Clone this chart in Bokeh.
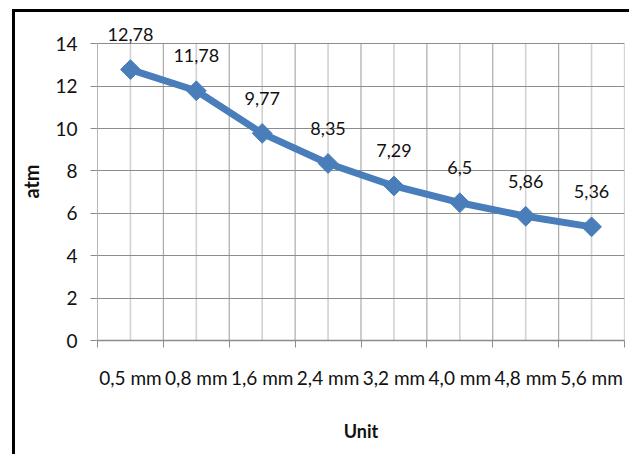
import math

from bokeh.plotting import figure
from bokeh.models import ColumnDataSource, FixedTicker, LabelSet, Range1d
from bokeh.core.properties import value
from bokeh.embed import file_html
from bokeh.resources import INLINE

# Pressure (atm) for each gap size
categories = ["0,5 mm", "0,8 mm", "1,6 mm", "2,4 mm", "3,2 mm", "4,0 mm", "4,8 mm", "5,6 mm"]
values = [12.78, 11.78, 9.77, 8.35, 7.29, 6.5, 5.86, 5.36]
value_labels = ["12,78", "11,78", "9,77", "8,35", "7,29", "6,5", "5,86", "5,36"]
y_ticks = [0, 2, 4, 6, 8, 10, 12, 14]
y_max = 14

FONT = "Lato"
BLUE = "#4a7ebb"
TEXT = "#111111"

n = len(categories)
# categories sit in the middle of unit-wide slots
xs = [i + 0.5 for i in range(n)]
source = ColumnDataSource(data=dict(x=xs, y=values, label=value_labels))

# a little headroom above the last tick so the value labels are not clipped
p = figure(
    width=617, height=445,
    x_range=Range1d(0, n), y_range=Range1d(0, y_max + 1),
    output_backend="svg", toolbar_location=None,
    min_border_left=82, min_border_right=8, min_border_top=10, min_border_bottom=117,
)
p.styles = {
    "margin-left": "12px", "margin-top": "9px",
    "border-left": "3px solid black", "border-top": "3px solid black",
}
p.outline_line_color = None
p.background_fill_color = "white"
p.border_fill_color = "white"

# x axis: labels centred on the slots, tick marks between them
p.xaxis.ticker = FixedTicker(ticks=xs, minor_ticks=list(range(n + 1)))
p.xaxis.major_label_overrides = {x: c for x, c in zip(xs, categories)}
p.xaxis.major_tick_out = 0
p.xaxis.major_tick_in = 0
p.xaxis.minor_tick_out = 7
p.xaxis.minor_tick_in = 0
p.xaxis.minor_tick_line_color = "#8c8c8c"
p.xaxis.axis_line_color = "#8c8c8c"
p.xaxis.axis_line_width = 1.5
p.xaxis.major_label_text_font = FONT
p.xaxis.major_label_text_font_size = "19px"
p.xaxis.major_label_text_color = TEXT
p.xaxis.major_label_standoff = 18
p.xaxis.axis_label = "Unit"
p.xaxis.axis_label_text_font = FONT
p.xaxis.axis_label_text_font_size = "18px"
p.xaxis.axis_label_text_font_style = "bold"
p.xaxis.axis_label_text_color = TEXT
p.xaxis.axis_label_standoff = 28

# y axis
p.yaxis.ticker = FixedTicker(ticks=y_ticks)
p.yaxis.bounds = (0, y_max)
p.yaxis.major_tick_out = 7
p.yaxis.major_tick_in = 0
p.yaxis.minor_tick_line_color = None
p.yaxis.major_tick_line_color = "#8c8c8c"
p.yaxis.axis_line_color = "#b4b4b4"
p.yaxis.major_label_text_font = FONT
p.yaxis.major_label_text_font_size = "19px"
p.yaxis.major_label_text_color = TEXT
p.yaxis.major_label_standoff = 13
p.yaxis.axis_label = "atm"
p.yaxis.axis_label_text_font = FONT
p.yaxis.axis_label_text_font_size = "20px"
p.yaxis.axis_label_text_font_style = "bold"
p.yaxis.axis_label_text_color = TEXT
p.yaxis.axis_label_standoff = 9

# grid: horizontal at the y ticks, vertical at slot edges and slot centres,
# the vertical ones stopping at the top tick
p.xgrid.grid_line_color = None
p.ygrid.ticker = FixedTicker(ticks=y_ticks)
p.ygrid.grid_line_color = "#8c8c8c"
p.ygrid.grid_line_width = 1.2
edge_x = [float(i) for i in range(1, n + 1)]
p.segment(x0=edge_x, y0=[0] * n, x1=edge_x, y1=[y_max] * n,
          line_color="#ababab", line_width=1.2, level="underlay")
p.segment(x0=xs, y0=[0] * n, x1=xs, y1=[y_max] * n,
          line_color="#d2d2d2", line_width=1.6, level="underlay")

# series
p.line("x", "y", source=source, line_color=BLUE, line_width=7, line_join="round")
p.scatter("x", "y", source=source, marker="square", angle=math.pi / 4, size=14,
          fill_color=BLUE, line_color=BLUE, line_width=1)

labels = LabelSet(x="x", y="y", text="label", source=source,
                  text_align="center", text_baseline="middle", y_offset=35,
                  text_font=value(FONT), text_font_size=value("18px"),
                  text_color=TEXT)
p.add_layout(labels)

open("out.html", "w").write(file_html(p, INLINE))
